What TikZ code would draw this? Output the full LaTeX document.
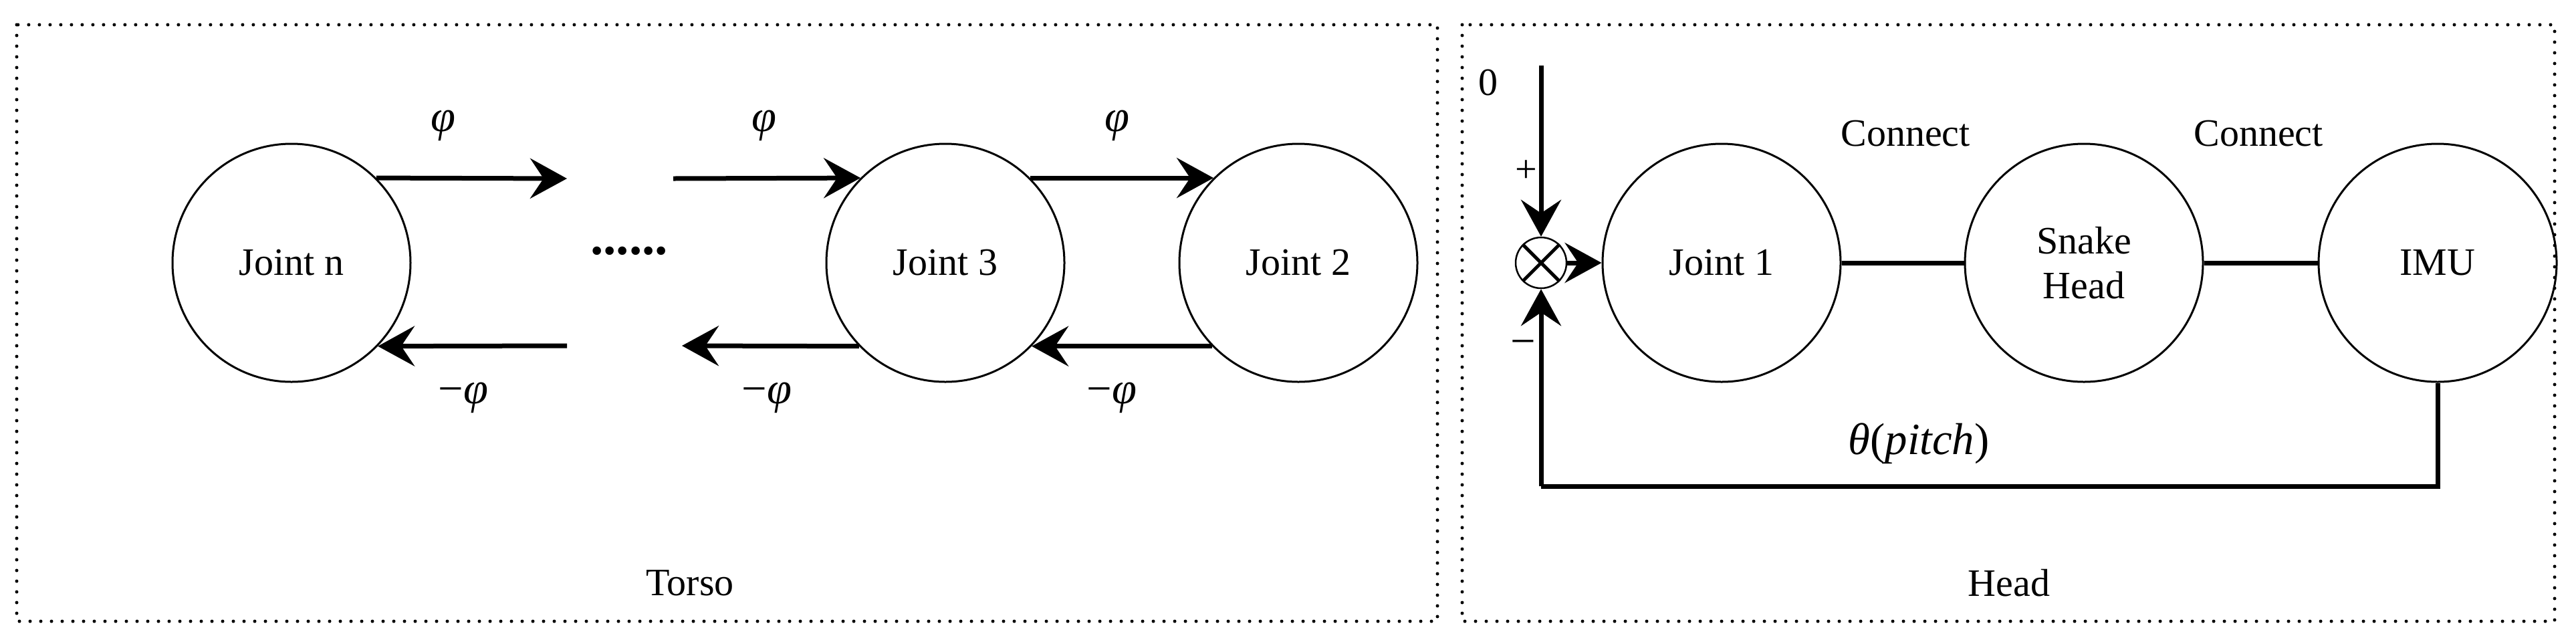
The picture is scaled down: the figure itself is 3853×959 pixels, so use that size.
\documentclass[tikz,border=0pt]{standalone}
\usepackage{fontspec}
\setmainfont{Liberation Serif}
\usetikzlibrary{arrows.meta}
\begin{document}
\begin{tikzpicture}[x=0.2mm,y=-0.2mm,
  jn/.style={circle,draw,line width=0.6mm,minimum size=356*0.2mm,inner sep=0pt,align=center,font=\fontsize{33}{38}\selectfont},
  lbl/.style={font=\fontsize{33}{38}\selectfont},
  mlbl/.style={font=\fontsize{38}{42}\selectfont},
  ar/.style={line width=1.4mm,-{Stealth[length=11mm,width=12mm,inset=4mm]}},
  ln/.style={line width=1.4mm},
  box/.style={line width=1mm,dash pattern=on 0pt off 3.2mm,line cap=round}]
\useasboundingbox (0,0) rectangle (3853,959);
\draw[box] (25,37) rectangle (2150,929);
\draw[box] (2187,37) rectangle (3821,929);
% Torso
\node[jn] (jn) at (436,393) {Joint n};
\node[jn] (j3) at (1414,393) {Joint 3};
\node[jn] (j2) at (1942,393) {Joint 2};
\node[font=\fontsize{44}{44}\bfseries\selectfont] (dots) at (941,375) {......};
\coordinate (a1) at (848,267);
\coordinate (a2) at (1007,267);
\coordinate (b1) at (848,517);
\coordinate (b2) at (1020,517);
\draw[ar] (jn.45) -- (a1);
\draw[ar] (a2) -- (j3.135);
\draw[ar] (j3.45) -- (j2.135);
\draw[ar] (b1) -- (jn.-44);
\draw[ar] (j3.-136) -- (b2);
\draw[ar] (j2.-136) -- (j3.-44);
\node[mlbl] (p1) at (663,188) {\textit{φ}};
\node[mlbl] (p2) at (1143,188) {\textit{φ}};
\node[mlbl] (p3) at (1671,188) {\textit{φ}};
\node[mlbl] (m1) at (693,595) {−\textit{φ}};
\node[mlbl] (m2) at (1147,595) {−\textit{φ}};
\node[mlbl] (m3) at (1663,595) {−\textit{φ}};
\node[lbl] (torso) at (1032,872) {Torso};
% Head
\node[circle,draw,line width=0.5mm,minimum size=76*0.2mm,inner sep=0pt] (sum) at (2305,393) {};
\draw[line width=1mm] (sum.45) -- (sum.225) (sum.135) -- (sum.-45);
\node[jn] (j1) at (2575,393) {Joint 1};
\node[jn] (sh) at (3117,393) {Snake\\Head};
\node[jn] (imu) at (3646,393) {IMU};
\coordinate (in) at (2305,98);
\coordinate (fb1) at (3646,727);
\coordinate (fb2) at (2305,727);
\draw[ar] (in) -- (sum.north);
\draw[ar] (sum.east) -- (j1.west);
\draw[ln] (j1) -- (sh);
\draw[ln] (sh) -- (imu);
\draw[ln] (imu.south) -- (fb1) -- (fb2);
\draw[ar] (fb2) -- (sum.south);
\node[lbl] (zero) at (2226,123) {0};
\node[lbl] (plus) at (2283,256) {+};
\node[mlbl] (minus) at (2278,521) {−};
\node[lbl] (c1) at (2850,200) {Connect};
\node[lbl] (c2) at (3378,200) {Connect};
\node[mlbl] (theta) at (2870,663) {\textit{θ}(\textit{pitch})};
\node[lbl] (head) at (3005,872) {Head};
\end{tikzpicture}
\end{document}
